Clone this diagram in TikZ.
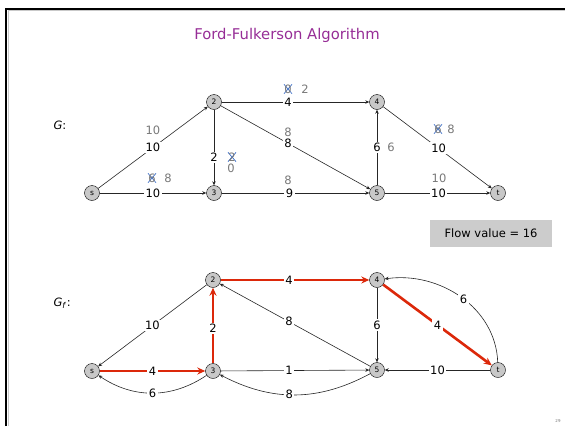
\documentclass[tikz,border=0pt]{standalone}
\usepackage{fontspec}
\setmainfont{DejaVu Sans}
\usetikzlibrary{arrows.meta}

\definecolor{titlepurple}{RGB}{150,45,150}
\definecolor{nodegray}{RGB}{200,200,200}
\definecolor{oldgray}{RGB}{120,120,120}
\definecolor{strikeblue}{RGB}{60,110,200}
\definecolor{augred}{RGB}{220,40,10}
\definecolor{boxgray}{RGB}{204,204,204}

\begin{document}
\begin{tikzpicture}[
  x=1pt,y=-1pt,
  vertex/.style={circle,draw,fill=nodegray,minimum size=15pt,inner sep=0pt,
    font=\fontsize{7.5}{8}\selectfont},
  lbl/.style={fill=white,inner sep=1.5pt,font=\fontsize{11.5}{13}\selectfont},
  old/.style={text=oldgray,inner sep=0.5pt,font=\fontsize{11.5}{13}\selectfont},
  crossed/.style={old,path picture={
    \draw[strikeblue,line width=0.7pt]
      (path picture bounding box.south west) -- (path picture bounding box.north east)
      (path picture bounding box.north west) -- (path picture bounding box.south east);}},
  netarc/.style={draw=black!85,line width=0.6pt,-{Stealth[length=4pt,width=3.5pt]}},
  aug/.style={draw=augred,line width=2.6pt,-{Stealth[length=8pt,width=7pt]}}
]
  \useasboundingbox (0,0) rectangle (565,426);

  % Slide frame, title and page number.
  \draw[oldgray!40,line width=1pt] (8,426) |- (565,10.8);
  \draw[line width=2.4pt] (6.2,426) |- (565,8.7);
  \node[text=titlepurple,font=\fontsize{14.8}{17}\selectfont] (title) at (287,35)
    {Ford-Fulkerson Algorithm};
  \node[text=oldgray,font=\fontsize{4}{5}\selectfont] (page) at (558,421) {29};

  % Network G with its flow.
  \node[anchor=west,font=\fontsize{11.5}{13}\selectfont] (gname) at (50,125) {\textit{G}:};
  \node[vertex] (s)  at (92,193)  {s};
  \node[vertex] (n2) at (214,102) {2};
  \node[vertex] (n3) at (214,193) {3};
  \node[vertex] (n4) at (377,102) {4};
  \node[vertex] (n5) at (377,193) {5};
  \node[vertex] (t)  at (498,193) {t};

  \draw[netarc] (s) -- node[lbl] {10} (n2);
  \draw[netarc] (s) -- node[lbl] {10} (n3);
  \draw[netarc] (n2) -- node[lbl,pos=0.63] {2} (n3);
  \draw[netarc] (n2) -- node[lbl,pos=0.45] {4} (n4);
  \draw[netarc] (n2) -- node[lbl,pos=0.45] {8} (n5);
  \draw[netarc] (n3) -- node[lbl,pos=0.46] {9} (n5);
  \draw[netarc] (n5) -- node[lbl] {6} (n4);
  \draw[netarc] (n4) -- node[lbl,pos=0.51] {10} (t);
  \draw[netarc] (n5) -- node[lbl,pos=0.51] {10} (t);

  % Flow values, old ones struck out.
  \node[old] (f-s2) at (153,130) {10};
  \node[crossed] (x-s3) at (152,178) {6};
  \node[old] (f-s3) at (168,178) {8};
  \node[crossed] (x-23) at (232,157) {2};
  \node[old] (f-23) at (231,168) {0};
  \node[crossed] (x-24) at (288,89) {0};
  \node[old] (f-24) at (305,89) {2};
  \node[old] (f-25) at (288,132) {8};
  \node[old] (f-35) at (288,180) {8};
  \node[old] (f-54) at (391,147) {6};
  \node[crossed] (x-4t) at (438,129) {6};
  \node[old] (f-4t) at (451,129) {8};
  \node[old] (f-5t) at (439,178) {10};

  \node[fill=boxgray,minimum width=122pt,minimum height=27pt,
    font=\fontsize{11.5}{13}\selectfont] (value) at (491,233.5) {Flow value = 16};

  % Residual graph G_f with the augmenting path.
  \node[anchor=west,font=\fontsize{11.5}{13}\selectfont] (gfname) at (50,303)
    {\textit{G}\textsubscript{\textit{f}}:};
  \node[vertex] (rs) at (92,371)  {s};
  \node[vertex] (r2) at (213,280) {2};
  \node[vertex] (r3) at (213,371) {3};
  \node[vertex] (r4) at (377,280) {4};
  \node[vertex] (r5) at (377,370) {5};
  \node[vertex] (rt) at (498,370) {t};

  \draw[netarc] (r2) -- node[lbl] {10} (rs);
  \draw[netarc] (r3) to[bend left=34] node[lbl] {6} (rs);
  \draw[netarc] (r5) -- node[lbl,pos=0.54] {8} (r2);
  \draw[netarc] (r3) -- node[lbl,pos=0.46] {1} (r5);
  \draw[netarc] (r5) to[bend left=28] node[lbl,pos=0.54] {8} (r3);
  \draw[netarc] (r4) -- node[lbl] {6} (r5);
  \draw[netarc] (rt) -- node[lbl] {10} (r5);
  \draw[netarc] (rt) to[out=92,in=8] node[lbl,pos=0.48] {6} (r4);

  \draw[aug] (rs) -- node[lbl] {4} (r3);
  \draw[aug] (r3) -- node[lbl,pos=0.46] {2} (r2);
  \draw[aug] (r2) -- node[lbl,pos=0.46] {4} (r4);
  \draw[aug] (r4) -- node[lbl] {4} (rt);
\end{tikzpicture}
\end{document}
